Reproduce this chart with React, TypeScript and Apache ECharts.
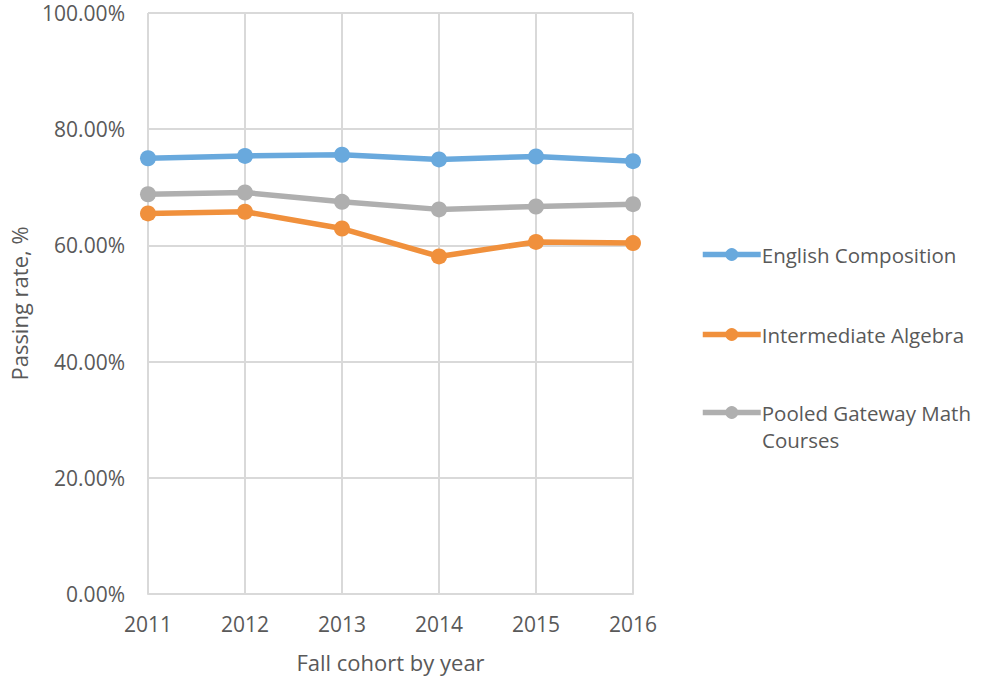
import React, { useEffect, useRef } from "react";
import * as echarts from "echarts";

const years = ["2011", "2012", "2013", "2014", "2015", "2016"];
const englishComposition = [75.0, 75.4, 75.6, 74.8, 75.3, 74.5];
const intermediateAlgebra = [65.5, 65.8, 62.9, 58.1, 60.6, 60.4];
const pooledGatewayMath = [68.8, 69.1, 67.5, 66.2, 66.7, 67.1];

const FONT = "'Open Sans', 'Noto Sans', sans-serif";
const TEXT = "#595959";
const GRID = "#d9d9d9";
const BLUE = "#69A9DD";
const ORANGE = "#F0903C";
const GRAY = "#AFAFAF";

export default function App() {
  const ref = useRef<HTMLDivElement>(null);

  useEffect(() => {
    if (!ref.current) return;
    document.body.style.margin = "0";
    const chart = echarts.init(ref.current, undefined, { renderer: "svg" });
    const mk = (name: string, data: number[], color: string) => ({
      name,
      type: "line",
      data,
      symbol: "circle",
      symbolSize: 16,
      lineStyle: { width: 5.5, color },
      itemStyle: { color },
      emphasis: { disabled: true },
    });
    const legendText = { color: TEXT, fontSize: 20.5, fontFamily: FONT, lineHeight: 27, padding: [0, 0, 0, -4] };
    const mkLegend = (name: string, top: number) => ({
      orient: "vertical",
      left: 695,
      top,
      data: [name],
      itemWidth: 58,
      itemHeight: 16,
      lineStyle: { width: 5.5 },
      textStyle: legendText,
      formatter: (n: string) => (n === "Pooled Gateway Math Courses" ? "Pooled Gateway Math" : n),
    });
    chart.setOption({
      animation: false,
      textStyle: { fontFamily: FONT },
      grid: { left: 148, right: 348, top: 13, bottom: 87, containLabel: false },
      legend: [
        mkLegend("English Composition", 236),
        mkLegend("Intermediate Algebra", 316),
        mkLegend("Pooled Gateway Math Courses", 394),
      ],
      graphic: [
        {
          type: "text",
          left: 762,
          top: 429,
          style: { text: "Courses", fill: TEXT, font: `20.5px ${FONT}` },
        },
      ],
      xAxis: {
        type: "category",
        data: years,
        boundaryGap: false,
        name: "Fall cohort by year",
        nameLocation: "middle",
        nameGap: 57,
        nameTextStyle: { color: TEXT, fontSize: 22, fontFamily: FONT },
        axisLine: { lineStyle: { color: GRID, width: 2 } },
        axisTick: { show: false },
        axisLabel: { color: TEXT, fontSize: 21, margin: 19, fontFamily: FONT },
        splitLine: { show: true, lineStyle: { color: GRID, width: 2 } },
      },
      yAxis: {
        type: "value",
        min: 0,
        max: 100,
        interval: 20,
        name: "Passing rate, %",
        nameLocation: "middle",
        nameGap: 118,
        nameTextStyle: { color: TEXT, fontSize: 22, fontFamily: FONT },
        axisLine: { show: false },
        axisTick: { show: false },
        axisLabel: {
          color: TEXT,
          fontSize: 21,
          margin: 23,
          fontFamily: FONT,
          formatter: (v: number) => v.toFixed(2) + "%",
        },
        splitLine: { lineStyle: { color: GRID, width: 2 } },
      },
      series: [
        mk("English Composition", englishComposition, BLUE),
        mk("Intermediate Algebra", intermediateAlgebra, ORANGE),
        mk("Pooled Gateway Math Courses", pooledGatewayMath, GRAY),
      ],
    });
    return () => chart.dispose();
  }, []);

  return <div ref={ref} style={{ width: 981, height: 681, background: "#fff" }} />;
}
